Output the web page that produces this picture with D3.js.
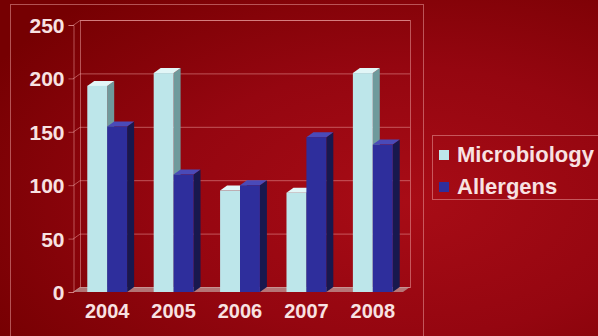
<!DOCTYPE html>
<html><head><meta charset="utf-8">
<script src="https://cdn.jsdelivr.net/npm/d3@7"></script>
<style>html,body{margin:0;padding:0;background:#8a0008;}svg{display:block}</style>
</head><body>
<script>
const years = ["2004","2005","2006","2007","2008"];
const seriesNames = ["Microbiology","Allergens"];
const microbiology = [193, 205, 95, 93, 205];
const allergens = [155, 110, 100, 145, 138];
const yTicks = [0, 50, 100, 150, 200, 250];

const W = 598, H = 336;
const svg = d3.select("body").append("svg").attr("width", W).attr("height", H);
const defs = svg.append("defs");
const rg = defs.append("radialGradient").attr("id","bg").attr("cx","0.68").attr("cy","0.6").attr("r","0.8");
rg.append("stop").attr("offset","0").attr("stop-color","#a80c16");
rg.append("stop").attr("offset","0.5").attr("stop-color","#950610");
rg.append("stop").attr("offset","1").attr("stop-color","#760002");
svg.append("rect").attr("width",W).attr("height",H).attr("fill","url(#bg)");

const dx = 7, dy = -5;
const y = d3.scaleLinear().domain([0,250]).range([292,25]);
const x0 = d3.scaleBand().domain(years).range([74,406]);
const x1 = d3.scaleBand().domain(seriesNames).range([x0.bandwidth()*0.2, x0.bandwidth()*0.8]);
const colors = {
  "Microbiology": {front:"#bde6ea", side:"#6f9a9c", top:"#e2f6f7"},
  "Allergens": {front:"#2e2e9c", side:"#18184e", top:"#4a4ab8"}
};
const line = "rgba(240,165,165,0.5)";
const txt = "#f8e2e2";
const font = "Liberation Sans, Arial, sans-serif";

// outer frame
svg.append("rect").attr("x",10.5).attr("y",4.5).attr("width",413).attr("height",340)
  .attr("fill","none").attr("stroke",line).attr("stroke-width",1);

const xl = 73, xr = 403;
// back wall
svg.append("rect").attr("x",xl+dx+0.5).attr("y",y(250)+dy+0.5).attr("width",xr-xl).attr("height",y(0)-y(250))
  .attr("fill","none").attr("stroke",line);
// gridlines
yTicks.forEach(v=>{
  svg.append("line").attr("x1",xl+dx).attr("x2",xr+dx).attr("y1",y(v)+dy+0.5).attr("y2",y(v)+dy+0.5).attr("stroke",line);
  svg.append("line").attr("x1",xl).attr("x2",xl+dx).attr("y1",y(v)+0.5).attr("y2",y(v)+dy+0.5).attr("stroke",line);
});
// floor
svg.append("polygon").attr("points",[[xl,y(0)],[xl+dx,y(0)+dy],[xr+dx,y(0)+dy],[xr,y(0)]].map(p=>p.join(",")).join(" "))
  .attr("fill","#c09a98").attr("opacity",0.75);

// y axis
const yAxis = d3.axisLeft(y).tickValues(yTicks).tickSize(5).tickPadding(4);
const ga = svg.append("g").attr("transform",`translate(${xl+0.5},0)`).call(yAxis);
ga.select(".domain").attr("stroke",line);
ga.selectAll(".tick line").attr("stroke",line);
ga.selectAll("text").attr("fill",txt).attr("font-family",font)
  .attr("font-weight","bold").attr("font-size",21).attr("dy","0.36em");

// bars
const data = years.map((yr,i)=>({year:yr, vals:[{s:"Microbiology",v:microbiology[i]},{s:"Allergens",v:allergens[i]}]}));
const groups = svg.append("g").selectAll("g").data(data).join("g")
  .attr("transform",d=>`translate(${x0(d.year)},0)`);
groups.each(function(d){
  const g = d3.select(this);
  d.vals.forEach(b=>{
    const xa = x1(b.s), xb = xa + x1.bandwidth();
    const yt = y(b.v), yb = y(0);
    const c = colors[b.s];
    g.append("polygon").attr("points",[[xb,yt],[xb+dx,yt+dy],[xb+dx,yb+dy],[xb,yb]].map(p=>p.join(",")).join(" ")).attr("fill",c.side);
    g.append("polygon").attr("points",[[xa,yt],[xa+dx,yt+dy],[xb+dx,yt+dy],[xb,yt]].map(p=>p.join(",")).join(" ")).attr("fill",c.top);
    g.append("rect").attr("x",xa).attr("y",yt).attr("width",xb-xa).attr("height",yb-yt).attr("fill",c.front);
  });
});

// x axis labels
const xAxis = d3.axisBottom(x0).tickSize(0).tickPadding(14);
const gx = svg.append("g").attr("transform",`translate(0,${y(0)})`).call(xAxis);
gx.select(".domain").remove();
gx.selectAll("text").attr("fill",txt).attr("font-family",font)
  .attr("font-weight","bold").attr("font-size",20).attr("dy","0.6em");

// legend
svg.append("rect").attr("x",432.5).attr("y",135.5).attr("width",170).attr("height",64)
  .attr("fill","none").attr("stroke",line);
const lg = svg.append("g").selectAll("g").data(seriesNames).join("g")
  .attr("transform",(d,i)=>`translate(439,${147+i*32})`);
lg.append("rect").attr("width",10).attr("height",10).attr("y",3).attr("fill",d=>colors[d].front);
lg.append("text").attr("x",18).attr("y",15).text(d=>d)
  .attr("fill",txt).attr("font-family",font)
  .attr("font-weight","bold").attr("font-size",22);
</script>
</body></html>
